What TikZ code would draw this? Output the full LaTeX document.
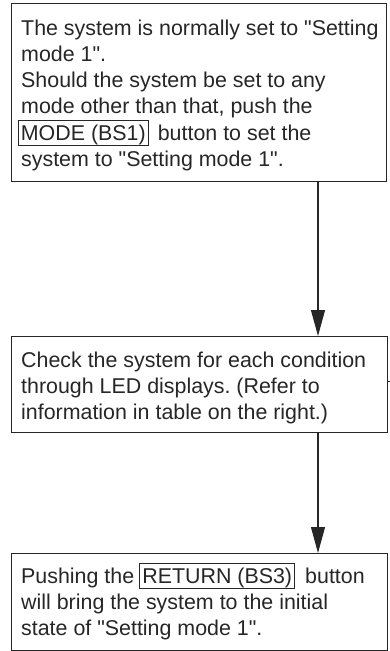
\documentclass[tikz,border=0pt]{standalone}
\usepackage{fontspec}
\setmainfont{Liberation Sans}[Ligatures=TeXOff]
\usetikzlibrary{arrows.meta}
\frenchspacing
\begin{document}
\begin{tikzpicture}[x=1pt,y=-1pt,
  frame/.style={draw=black!85, line width=1.1pt},
  txt/.style={anchor=base west, inner sep=0pt, font=\fontsize{21.4}{26}\selectfont\frenchspacing, text=black!85},
  keybox/.style={draw=black!85, line width=0.8pt, anchor=base west, inner xsep=2.5pt, inner ysep=0pt, text height=20pt, text depth=5.5pt, font=\fontsize{21.4}{26}\selectfont, text=black!85},
  flow/.style={draw=black!85, line width=1.1pt, -{Triangle[width=14pt,length=26pt]}}]
\useasboundingbox (0,0) rectangle (390,651);
% boxes
\node[frame, anchor=north west, minimum width=375pt, minimum height=178pt, inner sep=0pt] (b1) at (11,3) {};
\node[frame, anchor=north west, minimum width=376pt, minimum height=96pt, inner sep=0pt] (b2) at (11,336) {};
\node[frame, anchor=north west, minimum width=376pt, minimum height=97pt, inner sep=0pt] (b3) at (11,553) {};
% box 1 text
\node[txt] (t11) at (21,35) {The system is normally set to "Setting};
\node[txt] (t12) at (21,61) {mode 1".};
\node[txt] (t13) at (21,87) {Should the system be set to any};
\node[txt] (t14) at (21,113) {mode other than that, push the};
\node[keybox] (k1) at (18,140) {MODE (BS1)};
\node[txt] (t15) at ([xshift=9pt]k1.base east) {button to set the};
\node[txt] (t16) at (21,166) {system to "Setting mode 1".};
% box 2 text
\node[txt] (t21) at (21,367) {Check the system for each condition};
\node[txt] (t22) at (21,393) {through LED displays. (Refer to};
\node[txt] (t23) at (21,419) {information in table on the right.)};
% box 3 text
\node[txt] (t31) at (21,583) {Pushing the};
\node[keybox] (k3) at ([xshift=5pt]t31.base east) {RETURN (BS3)};
\node[txt] (t32) at ([xshift=10pt]k3.base east) {button};
\node[txt] (t33) at (21,609) {will bring the system to the initial};
\node[txt] (t34) at (21,635) {state of "Setting mode 1".};
% connectors
\coordinate (c1) at (318,0);
\draw[flow] (b1.south -| c1) -- (b2.north -| c1);
\draw[flow] (b2.south -| c1) -- (b3.north -| c1);
\coordinate (tick) at (390,381);
\draw[draw=black!85, line width=0.8pt] (b2.east |- tick) -- (tick);
\end{tikzpicture}
\end{document}
